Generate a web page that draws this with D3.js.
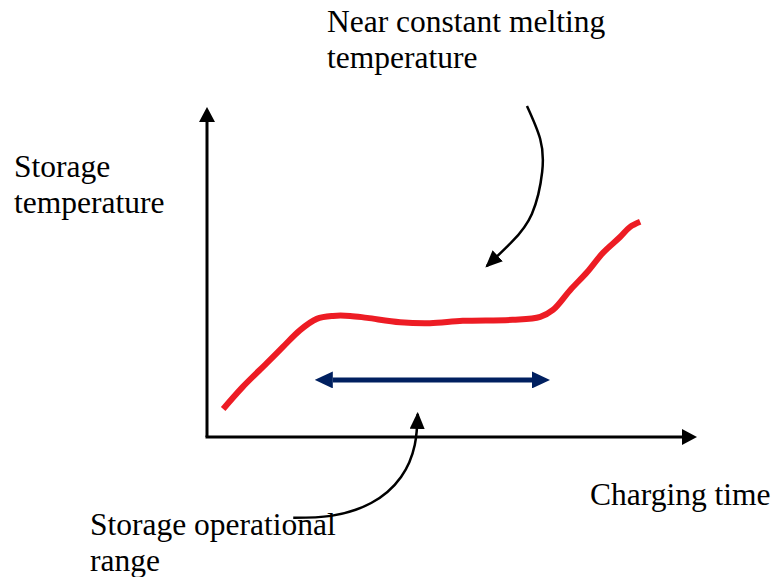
<!DOCTYPE html>
<html>
<head>
<meta charset="utf-8">
<script src="https://d3js.org/d3.v7.min.js"></script>
<style>
  body { margin: 0; background: #fff; }
  svg { display: block; }
  text { font-family: "Liberation Serif", "Times New Roman", serif; font-size: 31.5px; fill: #000; }
</style>
</head>
<body>
<div id="chart_box"></div>
<script>
// globals
var width = 777
var height = 577

// storage temperature vs charging time (arbitrary units 0..100)
var curve_time = [3.3, 7.3, 12.2, 15.5, 19.0, 22.4, 25.7, 29.2, 32.7, 39.4, 45.5, 52.2, 62.4, 68.0, 70.6, 74.1, 77.6, 80.8, 84.3, 86.3, 88.4]
var curve_temp = [8.5, 15.2, 22.4, 27.3, 32.4, 35.8, 36.7, 36.7, 36.1, 34.8, 34.5, 35.2, 35.5, 36.4, 38.5, 44.5, 50.0, 55.8, 60.6, 63.6, 65.2]

// operational range (double arrow)
var range_time = [22.0, 70.0]
var range_temp = 17.3

// annotation arrows (same units)
var melt_arrow_time = [65.3, 68.0, 68.4, 66.3, 62.2, 57.1]
var melt_arrow_temp = [100.3, 90.3, 80.3, 67.6, 59.1, 51.8]
var op_arrow_time = [17.6, 25.3, 33.5, 39.6, 42.4, 43.0]
var op_arrow_temp = [-24.5, -23.9, -20.0, -12.1, -2.4, 7.0]

// labels: [text, x, baseline]
var labels = [
  ["Near constant melting", 327, 32],
  ["temperature", 327, 68],
  ["Storage", 14, 177],
  ["temperature", 14, 213],
  ["Charging time", 590, 505],
  ["Storage operational", 90, 535],
  ["range", 90, 571]
]

var xscale = d3.scaleLinear().domain([0, 100]).range([207, 697])
var yscale = d3.scaleLinear().domain([0, 100]).range([437, 107])

var svg = d3.select("#chart_box").append("svg")
  .attr("width", width)
  .attr("height", height)

var defs = svg.append("defs")
function add_marker(id, len, wid, color, ref) {
  defs.append("marker")
    .attr("id", id)
    .attr("markerUnits", "userSpaceOnUse")
    .attr("markerWidth", len)
    .attr("markerHeight", wid)
    .attr("viewBox", "0 0 " + len + " " + wid)
    .attr("refX", ref)
    .attr("refY", wid / 2)
    .attr("orient", "auto-start-reverse")
    .append("path")
    .attr("d", "M0,0L" + len + "," + (wid / 2) + "L0," + wid + "Z")
    .attr("fill", color)
}
add_marker("axis_head", 15, 16, "#000", 0)
add_marker("blue_head", 18, 17, "#002060", 0)
add_marker("note_head", 17, 15, "#000", 15)

// axes
svg.append("line")
  .attr("x1", xscale(0)).attr("y1", yscale(0))
  .attr("x2", xscale(0)).attr("y2", yscale(100) + 15)
  .attr("stroke", "#000").attr("stroke-width", 3)
  .attr("marker-end", "url(#axis_head)")
svg.append("line")
  .attr("x1", xscale(0) - 1.5).attr("y1", yscale(0))
  .attr("x2", xscale(100) - 15).attr("y2", yscale(0))
  .attr("stroke", "#000").attr("stroke-width", 3)
  .attr("marker-end", "url(#axis_head)")

// temperature curve
var curve_pts = curve_time.map(function(t, i) { return [t, curve_temp[i]] })
var line = d3.line()
  .x(function(d) { return xscale(d[0]) })
  .y(function(d) { return yscale(d[1]) })
  .curve(d3.curveCatmullRom)
svg.append("path")
  .attr("d", line(curve_pts))
  .attr("fill", "none")
  .attr("stroke", "#ED1C24")
  .attr("stroke-width", 6)

// operational range double arrow
svg.append("line")
  .attr("x1", xscale(range_time[0]) + 18).attr("y1", yscale(range_temp))
  .attr("x2", xscale(range_time[1]) - 18).attr("y2", yscale(range_temp))
  .attr("stroke", "#002060").attr("stroke-width", 5)
  .attr("marker-start", "url(#blue_head)")
  .attr("marker-end", "url(#blue_head)")

// annotation arrows
var smooth = d3.line()
  .x(function(d) { return xscale(d[0]) })
  .y(function(d) { return yscale(d[1]) })
  .curve(d3.curveNatural)
function note_arrow(ts, vs) {
  var pts = ts.map(function(t, i) { return [t, vs[i]] })
  svg.append("path")
    .attr("d", smooth(pts))
    .attr("fill", "none")
    .attr("stroke", "#000")
    .attr("stroke-width", 2.5)
    .attr("marker-end", "url(#note_head)")
}
note_arrow(melt_arrow_time, melt_arrow_temp)
note_arrow(op_arrow_time, op_arrow_temp)

// labels
svg.selectAll("text.lbl")
  .data(labels)
  .enter()
  .append("text")
  .attr("class", "lbl")
  .attr("x", function(d) { return d[1] })
  .attr("y", function(d) { return d[2] })
  .text(function(d) { return d[0] })
</script>
</body>
</html>
